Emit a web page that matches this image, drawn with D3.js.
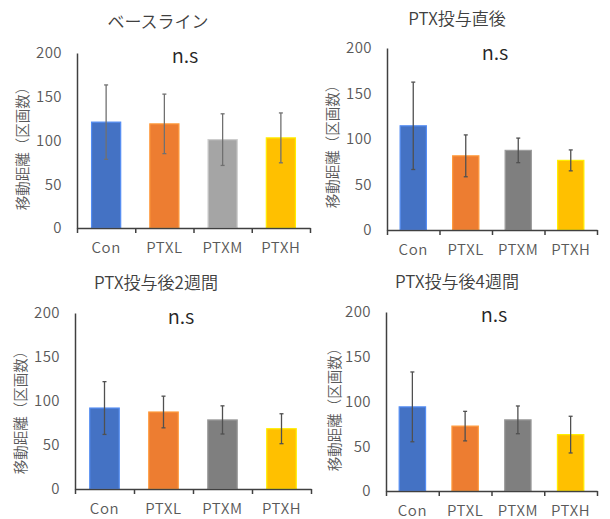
<!DOCTYPE html>
<html>
<head>
<meta charset="utf-8">
<script src="https://cdn.jsdelivr.net/npm/d3@7"></script>
<style>
  body { margin: 0; background: #fff; }
  svg text { font-family: "Noto Sans CJK JP", "Noto Sans", sans-serif; font-weight: 350; }
</style>
</head>
<body>
<div id="chart"></div>
<script>
// data
const categories = ["Con", "PTXL", "PTXM", "PTXH"];
const yTicks = [0, 50, 100, 150, 200];
const panelTitles = ["ベースライン", "PTX投与直後", "PTX投与後2週間", "PTX投与後4週間"];
const yLabel = "移動距離（区画数）";
const sigLabel = "n.s";

const baselineMeans = [121, 119, 101, 103];
const baselineErrs = [42.5, 34, 29.5, 28.5];
const postMeans = [114.5, 81.5, 87.5, 76.5];
const postErrs = [48, 23, 13.5, 11.5];
const week2Means = [92, 87.5, 78.5, 68.5];
const week2Errs = [30, 18, 16, 17];
const week4Means = [94, 72.5, 79.5, 63];
const week4Errs = [39, 16.5, 15.5, 20.5];

const seriesMeans = [baselineMeans, postMeans, week2Means, week4Means];
const seriesErrs = [baselineErrs, postErrs, week2Errs, week4Errs];

// colours per panel (PTXM is lighter grey in the baseline panel)
const panelColors = [
    ["#4472C4", "#ED7D31", "#A5A5A5", "#FFC000"],
    ["#4472C4", "#ED7D31", "#7F7F7F", "#FFC000"],
    ["#4472C4", "#ED7D31", "#7F7F7F", "#FFC000"],
    ["#4472C4", "#ED7D31", "#7F7F7F", "#FFC000"]
];

// layout of each panel on the page
const panels = [
    { x0: 77, x1: 310, yBottom: 228, yTop: 53, titleX: 158, titleY: 28, sigX: 185, sigY: 63, labelX: 21, labelY: 145 },
    { x0: 387, x1: 597, yBottom: 230, yTop: 48, titleX: 457, titleY: 25, sigX: 495, sigY: 60, labelX: 331, labelY: 143 },
    { x0: 75, x1: 311, yBottom: 489, yTop: 313, titleX: 156, titleY: 289, sigX: 181, sigY: 324, labelX: 19, labelY: 409 },
    { x0: 386, x1: 597, yBottom: 491, yTop: 312, titleX: 457, titleY: 288, sigX: 494, sigY: 322, labelX: 333, labelY: 406 }
];

const width = 610;
const height = 519;

const svg = d3.select("#chart")
    .append("svg")
    .attr("width", width)
    .attr("height", height);

panels.forEach(function(p, i) {
    const g = svg.append("g");
    const means = seriesMeans[i];
    const errs = seriesErrs[i];

    const x = d3.scaleBand()
        .domain(categories)
        .range([p.x0, p.x1])
        .paddingInner(0.5)
        .paddingOuter(0.25);

    const y = d3.scaleLinear()
        .domain([0, 200])
        .range([p.yBottom, p.yTop]);

    const color = d3.scaleOrdinal()
        .domain(categories)
        .range(panelColors[i]);

    const rows = categories.map((c, k) => ({ name: c, mean: means[k], err: errs[k] }));

    // bars
    g.selectAll(".bar")
        .data(rows)
        .enter().append("rect")
        .attr("class", "bar")
        .attr("x", d => x(d.name))
        .attr("y", d => y(d.mean))
        .attr("width", x.bandwidth())
        .attr("height", d => y(0) - y(d.mean))
        .style("fill", d => color(d.name))
        .style("stroke", d => d3.color(color(d.name)).brighter(0.6))
        .style("stroke-width", 1.2);

    // error bars
    const eb = g.selectAll(".err")
        .data(rows)
        .enter().append("g")
        .attr("class", "err")
        .attr("stroke", i === 0 ? "#707070" : "#505050")
        .attr("stroke-width", 1.3);

    eb.append("line")
        .attr("x1", d => x(d.name) + x.bandwidth() / 2)
        .attr("x2", d => x(d.name) + x.bandwidth() / 2)
        .attr("y1", d => y(d.mean + d.err))
        .attr("y2", d => y(d.mean - d.err));
    [1, -1].forEach(function(s) {
        eb.append("line")
            .attr("x1", d => x(d.name) + x.bandwidth() / 2 - 2)
            .attr("x2", d => x(d.name) + x.bandwidth() / 2 + 2)
            .attr("y1", d => y(d.mean + s * d.err))
            .attr("y2", d => y(d.mean + s * d.err));
    });

    // y axis
    const yAxis = g.append("g")
        .attr("transform", "translate(" + p.x0 + ",0)")
        .call(d3.axisLeft(y).tickValues(yTicks).tickSize(0).tickPadding(15));
    yAxis.select(".domain").attr("stroke", "#404040").attr("stroke-width", 1.5);
    yAxis.selectAll("text")
        .attr("fill", "#595959")
        .style("font-size", "15px")
        .style("letter-spacing", "0.4px");

    // x axis: boundary ticks
    const xEdges = d3.scaleLinear().domain([0, categories.length]).range([p.x0, p.x1]);
    const xTickAxis = g.append("g")
        .attr("transform", "translate(0," + p.yBottom + ")")
        .call(d3.axisBottom(xEdges).tickValues(d3.range(categories.length + 1)).tickSize(5).tickSizeOuter(0).tickFormat(""));
    xTickAxis.selectAll("line").attr("stroke", "#404040").attr("stroke-width", 1.5);
    xTickAxis.select(".domain").attr("stroke", "#404040").attr("stroke-width", 1.5);

    // x axis: category labels
    const xAxis = g.append("g")
        .attr("transform", "translate(0," + p.yBottom + ")")
        .call(d3.axisBottom(x).tickSize(0).tickPadding(14));
    xAxis.select(".domain").remove();
    xAxis.selectAll("text")
        .attr("fill", "#595959")
        .style("font-size", "15px")
        .style("letter-spacing", "0.6px");

    // panel title
    g.append("text")
        .attr("x", p.titleX)
        .attr("y", p.titleY)
        .attr("text-anchor", "middle")
        .attr("fill", "#404040")
        .style("font-size", "17px")
        .text(panelTitles[i]);

    // significance label
    g.append("text")
        .attr("x", p.sigX)
        .attr("y", p.sigY)
        .attr("text-anchor", "middle")
        .attr("fill", "#262626")
        .style("font-size", "20px")
        .text(sigLabel);

    // y axis label
    g.append("text")
        .attr("transform", "translate(" + p.labelX + "," + p.labelY + ") rotate(-90)")
        .attr("text-anchor", "middle")
        .attr("dominant-baseline", "central")
        .attr("fill", "#595959")
        .style("font-size", "14.5px")
        .text(yLabel);
});
</script>
</body>
</html>
